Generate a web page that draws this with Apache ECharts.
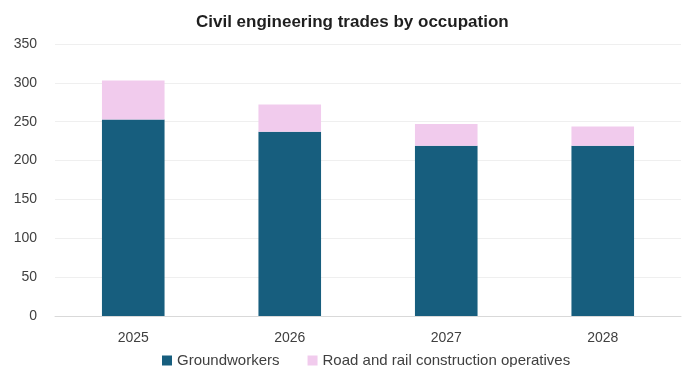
<!DOCTYPE html>
<html>
<head>
<meta charset="utf-8">
<script src="https://cdn.jsdelivr.net/npm/echarts@6/dist/echarts.min.js"></script>
<style>
  html, body { margin: 0; padding: 0; background: #ffffff; }
  #chart { width: 687px; height: 367px; }
</style>
</head>
<body>
<div id="chart"></div>
<script>
// Civil engineering trades, thousands, by occupation
const years = ['2025', '2026', '2027', '2028'];
const groundworkers = [253, 237, 219, 219];
const roadRailOperatives = [50, 35, 28, 25];
const yTicks = { min: 0, max: 350, interval: 50 };

const chart = echarts.init(document.getElementById('chart'), null, { renderer: 'canvas' });

const font = 'Liberation Sans, Arial, sans-serif';

chart.setOption({
  animation: false,
  backgroundColor: '#ffffff',
  title: {
    text: 'Civil engineering trades by occupation',
    left: 191,
    top: 9,
    textStyle: { fontFamily: font, fontSize: 17, fontWeight: 'bold', color: '#1f1f1f' }
  },
  legend: {
    top: 348,
    left: 157,
    itemWidth: 10,
    itemHeight: 10,
    itemGap: 28,
    icon: 'rect',
    textStyle: { fontFamily: font, fontSize: 15, color: '#404040' },
    data: ['Groundworkers', 'Road and rail construction operatives']
  },
  grid: { left: 55, right: 6, top: 44, bottom: 51, containLabel: false },
  xAxis: {
    type: 'category',
    data: years,
    axisLine: { lineStyle: { color: '#d9d9d9', width: 1 } },
    axisTick: { show: false },
    axisLabel: { fontFamily: font, fontSize: 14, color: '#404040', margin: 15 }
  },
  yAxis: {
    type: 'value',
    min: yTicks.min,
    max: yTicks.max,
    interval: yTicks.interval,
    axisLine: { show: false },
    axisTick: { show: false },
    splitLine: { lineStyle: { color: '#efefef', width: 1 } },
    axisLabel: { fontFamily: font, fontSize: 14, color: '#404040', margin: 18 }
  },
  series: [
    {
      name: 'Groundworkers',
      type: 'bar',
      stack: 'total',
      barWidth: '40%',
      data: groundworkers,
      itemStyle: { color: '#175e7e' }
    },
    {
      name: 'Road and rail construction operatives',
      type: 'bar',
      stack: 'total',
      barWidth: '40%',
      data: roadRailOperatives,
      itemStyle: { color: '#f1cbed' }
    }
  ]
});
</script>
</body>
</html>
